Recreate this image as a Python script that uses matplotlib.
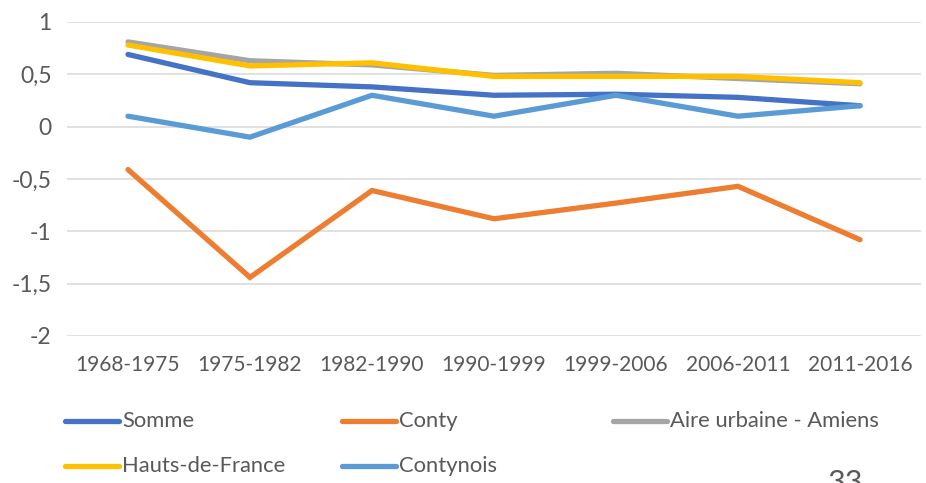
import matplotlib
matplotlib.use("Agg")
import matplotlib.pyplot as plt
from matplotlib.lines import Line2D

plt.rcParams['font.family'] = ['Lato', 'DejaVu Sans']

periods = ["1968-1975", "1975-1982", "1982-1990", "1990-1999",
           "1999-2006", "2006-2011", "2011-2016"]

somme = [0.69, 0.42, 0.38, 0.30, 0.31, 0.28, 0.20]
conty = [-0.41, -1.44, -0.61, -0.88, -0.73, -0.57, -1.08]
aire_urbaine = [0.81, 0.63, 0.59, 0.49, 0.51, 0.46, 0.41]
hauts_de_france = [0.78, 0.58, 0.61, 0.48, 0.48, 0.48, 0.42]
contynois = [0.10, -0.10, 0.30, 0.10, 0.30, 0.10, 0.20]

series = [
    ("Somme", somme, "#4472C4"),
    ("Conty", conty, "#ED7D31"),
    ("Aire urbaine - Amiens", aire_urbaine, "#A5A5A5"),
    ("Hauts-de-France", hauts_de_france, "#FFC000"),
    ("Contynois", contynois, "#5B9BD5"),
]

yticks = [1, 0.5, 0, -0.5, -1, -1.5, -2]
ytick_labels = ["1", "0,5", "0", "-0,5", "-1", "-1,5", "-2"]

text_color = "#595959"
W, H = 926, 483

fig = plt.figure(figsize=(W / 100, H / 100), dpi=100)
ax = fig.add_axes([67 / W, 1 - 336 / H, (921 - 67) / W, (336 - 22) / H])

x = list(range(len(periods)))
for name, vals, col in series:
    ax.plot(x, vals, color=col, lw=3.8, solid_capstyle="round",
            solid_joinstyle="miter", label=name)

ax.set_xlim(-0.5, len(periods) - 0.5)
ax.set_ylim(-2, 1)
ax.set_yticks(yticks)
ax.set_yticklabels(ytick_labels)
ax.set_xticks(x)
ax.set_xticklabels(periods)
ax.grid(axis="y", color="#D9D9D9", lw=1.1)
ax.set_axisbelow(True)
for s in ax.spines.values():
    s.set_visible(False)
ax.tick_params(length=0, colors=text_color)
ax.tick_params(axis="x", labelsize=15, pad=14)
ax.tick_params(axis="y", labelsize=16.5, pad=11)

# legend laid out by hand in two rows
legend_pos = [(65, 421), (342, 421), (613, 421), (65, 466), (342, 466)]
for (name, vals, col), (lx, ly) in zip(series, legend_pos):
    fig.add_artist(Line2D([lx / W, (lx + 54) / W], [1 - ly / H, 1 - ly / H],
                          color=col, lw=3.8, solid_capstyle="round"))
    fig.text((lx + 57) / W, 1 - ly / H, name, fontsize=15.8, color=text_color,
             va="center", ha="left")

fig.text(828 / W, 1 - 492 / H, "33", fontsize=22, color=text_color,
         va="baseline", ha="left")

fig.savefig("out.png", dpi=100)
